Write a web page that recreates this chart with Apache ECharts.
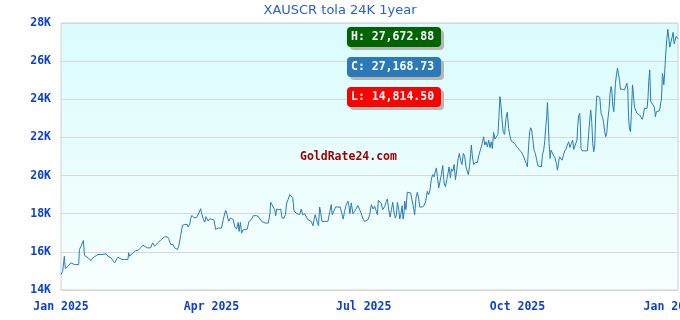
<!DOCTYPE html>
<html>
<head>
<meta charset="utf-8">
<script src="https://cdn.jsdelivr.net/npm/echarts@6/dist/echarts.min.js"></script>
<style>html,body{margin:0;padding:0;background:#fff;}#c{width:680px;height:320px;}</style>
</head>
<body>
<div id="c"></div>
<script>
// days since 2025-01-01
const days = [
0,1,2,2.6,4,5,6,7,8,9,10.6,11,12,13,13.4,14,15,16.6,18,19,20,22,24,27,28,30,31,32,32.5,34,35,36.5,38,40,40.5,41,42.5,44.5,
46,47.6,49,50,51.6,53.6,54.8,56,57,58.4,60,61,62,63.6,64.6,65.6,66,67,68,69.6,70.4,71.6,72.6,74,75.5,76,77,77.5,78.3,79.5,81,82,82.7,83.5,84,85,86,86.7,88,89,90,91.5,92.5,93.5,
94,96,97,98,98.5,99.3,100.3,101.3,103,104,105,106,106.5,107.3,108,109,110.2,111.4,112.4,113.8,115,116.8,118,119,120,121,122.2,124,125,125.4,126.2,127,127.8,128.4,129,130.2,131.4,132.2,133.4,134.2,135,135.8,136.8,137.8,138.6,139.4,140.6,
141.7,142.7,143.7,144.5,145.7,146.7,147.7,148.7,149.7,150.7,151.3,152,152.7,153.3,154,154.7,155.3,156,157.6,159.6,160.6,161.6,162.2,163.2,164.2,165.6,167,168,168.8,169.6,170.6,171.6,172.2,172.8,173.6,174.6,175.6,176.6,177.6,178.6,179.6,180.6,181.6,182.6,183.6,184.6,185.6,186.6,187.6,188.6,189.2,189.8,
190.6,191.6,192.4,193.2,193.6,194.6,195.2,196,196.8,197.6,198.4,199.2,200,200.6,201.2,202,202.6,203.2,204,204.6,205.2,205.6,206.3,207.1,208,209.1,209.9,210.7,211.5,212.3,213.1,213.9,214.5,215.9,217.1,218.1,219.1,219.9,220.7,221.5,222.3,223.1,223.9,224.5,225.1,225.9,226.7,227.5,228.3,229.1,229.9,230.7,231.5,232.1,232.9,233.5,234.3,235.1,235.9,236.7,237.5,
238.2,239,239.8,240.6,241.4,242.2,243,243.6,244.4,245,245.4,246,246.8,247.8,249,249.8,250.6,251.4,252.2,252.8,253.4,254.2,255,255.8,256.6,257.3,258,258.7,259.5,260.5,261.3,261.9,262.5,263.1,263.7,264.5,265.3,266.1,266.9,267.7,268.5,269.3,270.3,271.3,272.3,273.3,274.3,275.3,276.3,277.3,278.3,278.9,279.7,280.3,280.9,281.5,282.1,282.9,283.7,284.5,285.3,286.3,
287.3,287.9,288.7,289.3,289.9,290.5,290.9,291.3,291.9,292.5,293.1,293.7,294.5,295.3,296.3,296.9,297.5,298.1,298.9,299.7,300.5,301.3,302.2,302.8,303.6,304.4,305.2,306,306.6,307.6,308.6,309,309.6,310.2,310.6,311,311.8,313.2,314.8,315.6,316.2,316.8,317.4,318,318.6,319.2,319.8,320.4,321.2,322.2,323,323.8,324.4,325.2,325.8,326.4,
327,327.8,328.4,329,329.4,330,330.6,331,331.6,332.2,332.8,333.4,334,334.6,335.8,337,337.8,338.4,339,339.4,340,340.6,341.2,341.8,342.4,343,343.7,344.5,345.3,346.1,346.9,347.7,348.3,348.9,349.7,350.5,351.1,351.5,352.1,352.7,353.3,354.1,354.9,355.5,356.1,356.9,357.9,358.7,359.1,359.7,360.1,360.5,360.9,361.3,361.7,362.3,362.9,363.5,364.1,364.9,365.5,366.1,366.7,367.3,367.9,369
];
const prices = [
14814.50,14983,15772,15123,15246,15334,15422,15457,15334,15334,15334,16123,16299,16386,16597,15825,15860,15650,15544,15685,15772,15860,15860,15895,15772,15685,15544,15422,15509,15720,15685,15597,15597,15597,15948,15772,15895,16070,
16071,16211,16351,16421,16211,16211,16474,16299,16211,16509,16650,16562,16790,16790,16650,16386,16299,16386,16211,16123,16299,16860,17386,17439,17439,17298,17439,17737,17912,17790,17790,17790,18088,18263,18053,17737,17561,17842,17614,17737,17737,17667,17176,17263,
17246,17246,17685,18035,18176,17948,17597,17772,17685,17299,17194,17544,17071,17544,16983,17159,17159,17194,17597,17685,17895,17895,17860,17720,17597,17685,17509,17509,18035,18597,18562,18351,18211,17895,18246,18211,18246,17772,17772,17948,18562,18737,19000,19053,18825,18123,18035,
17948,17948,18246,17948,18000,17948,17685,17772,17597,17369,17685,17948,18035,17544,17369,18351,18070,17597,17597,17597,17597,18474,17948,17860,18351,18351,18351,18000,17720,18123,18474,18650,18421,18000,18562,18000,18123,18035,18421,18421,18000,17720,17597,17544,17685,17948,18474,18246,18386,18123,17948,18702,
18650,18527,18211,18123,18386,18650,18772,18211,17825,18211,18597,18035,17772,17948,18597,18211,17720,17948,18421,17720,18123,18650,18211,19123,19088,19088,19000,18386,17948,18825,19123,18825,18351,18351,18421,18650,19176,19000,19263,19825,20053,19930,20228,20403,19965,19351,19404,20053,20526,19614,19404,19790,20140,20456,19877,20351,20228,20579,19790,20316,20877,
21158,20807,20579,21158,21035,20456,20228,20053,20544,21158,21597,21035,20579,20684,20684,21035,21281,21509,21807,22035,21597,21772,21509,21860,21456,21772,21421,22263,21912,21912,22158,23088,24140,23702,23000,22263,22158,23000,23316,22474,22088,21807,21737,21684,21597,21421,21386,21246,21071,20983,20632,20456,21597,22298,22509,22386,21948,21333,21158,20807,20509,20509,
20457,21070,21369,21772,22561,23088,23825,23088,21684,20895,21334,21369,21070,20948,20632,20281,20632,20983,20895,20807,21070,21298,21422,21597,21772,21474,21684,21860,21369,21369,21860,22561,23123,23263,22737,21422,21298,21298,21298,21334,22912,23439,22825,21684,21246,21597,23175,24175,24175,24105,23263,23088,22825,22298,22035,22246,
22912,23526,24316,24667,24491,23649,23351,23877,24842,25280,25631,25544,25017,24526,24526,24491,24526,24842,24491,23088,22421,22298,23439,24754,24175,23579,23579,23263,23298,23175,23088,22948,23175,23526,23439,23526,24140,24930,25544,23877,23825,23702,23579,23088,23351,23404,23404,23404,24000,25351,25175,24754,25175,25824,26421,27123,27672.88,27211,26737,26737,27263,27509,26912,27088,27298,27168.73
];
const quarterDays = [0, 90, 181, 273, 365];
const quarterLabels = ['Jan 2025', 'Apr 2025', 'Jul 2025', 'Oct 2025', 'Jan 2026'];
const yTicks = [14000, 16000, 18000, 20000, 22000, 24000, 26000, 28000];
const titleText = 'XAUSCR tola 24K 1year';
const siteText = 'GoldRate24.com';

function fmt(v) {
  const p = v.toFixed(2).split('.');
  return p[0].replace(/\B(?=(\d{3})+(?!\d))/g, ',') + '.' + p[1];
}
const hi = Math.max.apply(null, prices);
const lo = Math.min.apply(null, prices);
const cur = prices[prices.length - 1];

const mono = '"DejaVu Sans Mono", monospace';
const labelColor = '#0b3fd3';

function badge(y, color, text) {
  return [
    { type: 'rect', x: 350, y: y + 3, shape: { x: 0, y: 0, width: 94, height: 20, r: 4 }, style: { fill: '#b5b5b5' }, z: 10 },
    { type: 'rect', x: 347, y: y, shape: { x: 0, y: 0, width: 94, height: 20, r: 4 }, style: { fill: color }, z: 11 },
    { type: 'text', x: 351, y: y + 10, style: { text: text, fill: '#ffffff', font: 'bold 11.5px ' + mono, verticalAlign: 'middle', align: 'left' }, z: 12 }
  ];
}

const chart = echarts.init(document.getElementById('c'), null, { renderer: 'canvas' });
chart.setOption({
  animation: false,
  title: {
    text: titleText, left: 'center', top: 4, padding: 0,
    textStyle: { fontFamily: '"DejaVu Sans", sans-serif', fontSize: 13, fontWeight: 'normal', color: '#2a62c9' }
  },
  grid: {
    left: 61, right: 2, top: 23, bottom: 30, show: true, borderColor: '#cfcfcf', borderWidth: 1,
    containLabel: false, outerBoundsMode: 'none',
    backgroundColor: new echarts.graphic.LinearGradient(0, 0, 0, 1, [
      { offset: 0, color: '#dafcfc' }, { offset: 1, color: '#f7ffff' }
    ])
  },
  xAxis: {
    type: 'value', min: 0, max: 369,
    axisLine: { show: false }, axisTick: { show: false }, splitLine: { show: false },
    axisLabel: {
      customValues: quarterDays, margin: 11, hideOverlap: false,
      formatter: function (v) { const i = quarterDays.indexOf(v); return i >= 0 ? quarterLabels[i] : ''; },
      color: labelColor, fontFamily: mono, fontWeight: 'bold', fontSize: 11.5
    }
  },
  yAxis: {
    type: 'value', min: yTicks[0], max: yTicks[yTicks.length - 1], interval: 2000,
    axisLine: { show: false }, axisTick: { show: false },
    splitLine: { show: true, lineStyle: { color: '#d8d8d8', width: 1 } },
    axisLabel: {
      margin: 10, formatter: function (v) { return (v / 1000) + 'K'; },
      color: labelColor, fontFamily: mono, fontWeight: 'bold', fontSize: 11.5
    }
  },
  graphic: [].concat(
    badge(27, '#006400', 'H: ' + fmt(hi)),
    badge(57, '#2a7ab8', 'C: ' + fmt(cur)),
    badge(87, '#ff0000', 'L: ' + fmt(lo)),
    [{ type: 'text', x: 300, y: 157, style: { text: siteText, fill: '#990000', font: 'bold 11.5px ' + mono, verticalAlign: 'middle' }, z: 12 }]
  ),
  series: [{
    type: 'line', showSymbol: false, symbol: 'none',
    data: days.map(function (d, i) { return [d, prices[i]]; }),
    lineStyle: { color: '#2a7ab8', width: 1 },
    itemStyle: { color: '#2a7ab8' }
  }]
});
</script>
</body>
</html>
